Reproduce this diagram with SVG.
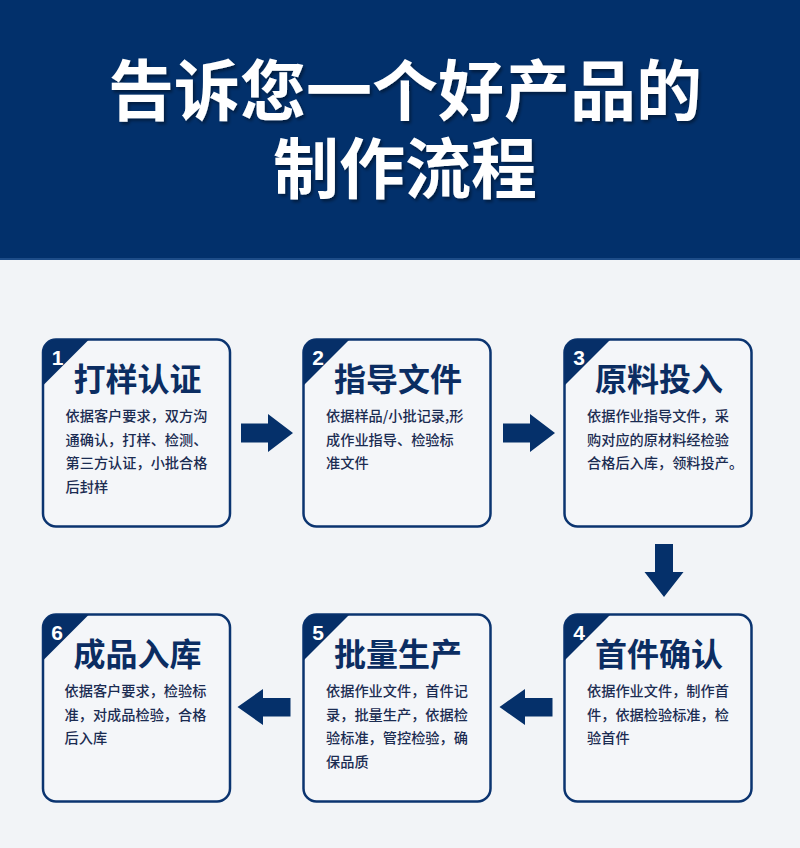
<svg xmlns="http://www.w3.org/2000/svg" width="800" height="848" viewBox="0 0 800 848">
<defs>
<style>
.bg{fill:#f2f4f7}
.hdr{fill:#02306b}
.ttl{font-family:"Noto Sans CJK SC","Noto Sans CJK TC",sans-serif;font-weight:700;font-size:66px;fill:#ffffff;text-anchor:middle}
.card{fill:#f4f6f9;stroke:#0b3470;stroke-width:2.5}
.tri{fill:#062f68}
.num{font-family:"Liberation Sans",Arial,sans-serif;font-weight:700;font-size:21px;fill:#ffffff;text-anchor:middle}
.head{font-family:"Noto Sans CJK SC",sans-serif;font-weight:700;font-size:32px;fill:#0b2d62;text-anchor:middle}
.desc{font-family:"Noto Sans CJK SC",sans-serif;font-weight:500;font-size:14.2px;fill:#1b2c52}
.arr{fill:#05306a}
</style>
<filter id="sh" x="-5%" y="-20%" width="110%" height="140%">
<feDropShadow dx="2" dy="2.5" stdDeviation="1.5" flood-color="#000000" flood-opacity="0.4"/>
</filter>
</defs>
<rect class="bg" x="0" y="0" width="800" height="848"/>
<g id="header">
<rect class="hdr" x="0" y="0" width="800" height="260"/>
<rect x="0" y="258" width="800" height="2" fill="#1d4c88"/>
<g filter="url(#sh)">
<text class="ttl" x="405" y="115">告诉您一个好产品的</text>
<text class="ttl" x="405" y="193">制作流程</text>
</g>
</g>
<g id="connectors">
<path class="arr" d="M241,423.5 H268 V414 L293,433 L268,452 V442.5 H241 Z"/>
<path class="arr" d="M503,423.5 H530 V414 L555,433 L530,452 V442.5 H503 Z"/>
<path class="arr" d="M655,544 H673 V572 H683.5 L664,597 L644.5,572 H655 Z"/>
<path class="arr" d="M552.5,698 H525 V689 L499.5,707 L525,725 V716.5 H552.5 Z"/>
<path class="arr" d="M290.5,698 H263 V689 L237.5,707 L263,725 V716.5 H290.5 Z"/>
</g>
<g id="node1">
<rect class="card" x="43" y="339.5" width="187" height="187" rx="13"/>
<path class="tri" d="M43,385.5 V352.5 A13,13 0 0 1 56,339.5 H89 Z"/>
<text class="num" x="57.5" y="364.5">1</text>
<text class="head" x="137.5" y="390.5">打样认证</text>
<text class="desc" x="65.5" y="421">依据客户要求，双方沟</text>
<text class="desc" x="65.5" y="444.5">通确认，打样、检测、</text>
<text class="desc" x="65.5" y="468">第三方认证，小批合格</text>
<text class="desc" x="65.5" y="491.5">后封样</text>
</g>
<g id="node2">
<rect class="card" x="303.5" y="339.5" width="187" height="187" rx="13"/>
<path class="tri" d="M303.5,385.5 V352.5 A13,13 0 0 1 316.5,339.5 H349.5 Z"/>
<text class="num" x="318" y="364.5">2</text>
<text class="head" x="398" y="390.5">指导文件</text>
<text class="desc" x="326" y="421">依据样品/小批记录,形</text>
<text class="desc" x="326" y="444.5">成作业指导、检验标</text>
<text class="desc" x="326" y="468">准文件</text>
</g>
<g id="node3">
<rect class="card" x="564.5" y="339.5" width="187" height="187" rx="13"/>
<path class="tri" d="M564.5,385.5 V352.5 A13,13 0 0 1 577.5,339.5 H610.5 Z"/>
<text class="num" x="579" y="364.5">3</text>
<text class="head" x="659" y="390.5">原料投入</text>
<text class="desc" x="587" y="421">依据作业指导文件，采</text>
<text class="desc" x="587" y="444.5">购对应的原材料经检验</text>
<text class="desc" x="587" y="468">合格后入库，领料投产。</text>
</g>
<g id="node4">
<rect class="card" x="564.5" y="614.5" width="187" height="187" rx="13"/>
<path class="tri" d="M564.5,660.5 V627.5 A13,13 0 0 1 577.5,614.5 H610.5 Z"/>
<text class="num" x="579" y="639.5">4</text>
<text class="head" x="659" y="665.5">首件确认</text>
<text class="desc" x="587" y="696">依据作业文件，制作首</text>
<text class="desc" x="587" y="719.5">件，依据检验标准，检</text>
<text class="desc" x="587" y="743">验首件</text>
</g>
<g id="node5">
<rect class="card" x="303.5" y="614.5" width="187" height="187" rx="13"/>
<path class="tri" d="M303.5,660.5 V627.5 A13,13 0 0 1 316.5,614.5 H349.5 Z"/>
<text class="num" x="318" y="639.5">5</text>
<text class="head" x="398" y="665.5">批量生产</text>
<text class="desc" x="326" y="696">依据作业文件，首件记</text>
<text class="desc" x="326" y="719.5">录，批量生产，依据检</text>
<text class="desc" x="326" y="743">验标准，管控检验，确</text>
<text class="desc" x="326" y="766.5">保品质</text>
</g>
<g id="node6">
<rect class="card" x="43" y="614.5" width="187" height="187" rx="13"/>
<path class="tri" d="M43,660.5 V627.5 A13,13 0 0 1 56,614.5 H89 Z"/>
<text class="num" x="57" y="639.5">6</text>
<text class="head" x="137.5" y="665.5">成品入库</text>
<text class="desc" x="64.5" y="696">依据客户要求，检验标</text>
<text class="desc" x="64.5" y="719.5">准，对成品检验，合格</text>
<text class="desc" x="64.5" y="743">后入库</text>
</g>
</svg>
